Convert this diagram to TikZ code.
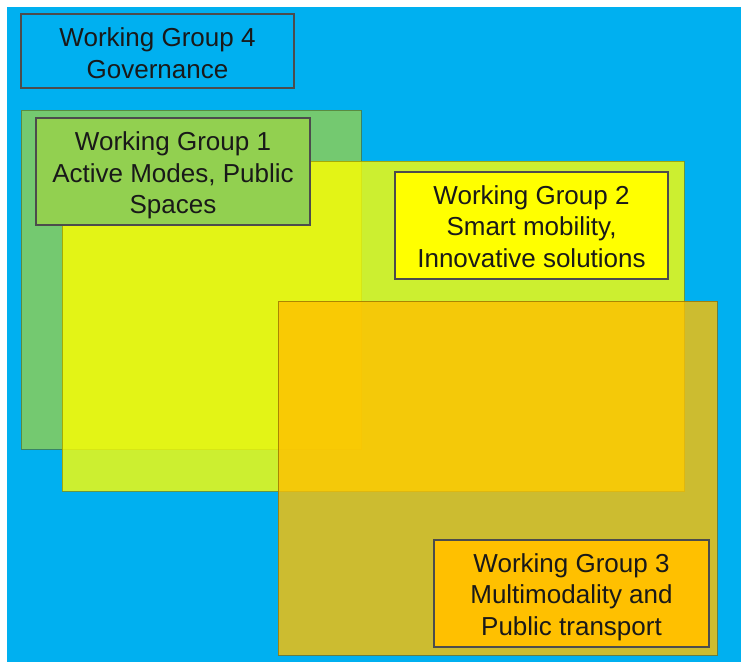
\documentclass[tikz,border=0pt]{standalone}
\usepackage{fontspec}
\setmainfont{Liberation Sans}
\definecolor{wgblue}{HTML}{00B0F0}
\definecolor{wggreen}{HTML}{92D050}
\definecolor{wgyellow}{HTML}{FFFF00}
\definecolor{wgorange}{HTML}{FFC000}
\begin{document}
\begin{tikzpicture}
[x=1pt,y=-1pt,
  areadecorate/.style={draw=#1!55!black,draw opacity=0.7,fill=#1,fill opacity=0.8,line width=0.8pt},%
  groupdecorate/.style={shape=rectangle,draw=black!70,line width=1.4pt,inner sep=0pt},%
  textdecorate/.style={inner sep=0pt,align=center,font=\fontsize{26}{31.5}\selectfont,text=black!90}]
%% page and background
\useasboundingbox (0,0) rectangle (741,662);
\fill[white] (0,0) rectangle (741,662);
\fill[wgblue] (7,7) rectangle (741,662);
%% overlapping areas
\foreach \colour/\xa/\ya/\xb/\yb in {wggreen/21/110/361/449,
  wgyellow/62/161/684/491, wgorange/278/301/717/655} {
  \draw[areadecorate=\colour] (\xa,\ya) rectangle (\xb,\yb);
}
%% working group labels
\foreach \nodename/\colour/\x/\y/\w/\h/\down/\label in {
  wgfour/wgblue/157.5/51/273/74/2/{Working Group 4\\Governance},
  wgone/wggreen/173/171.5/274/107/4/{Working Group 1\\Active Modes, Public\\Spaces},
  wgtwo/wgyellow/531.5/225.5/273/107/1/{Working Group 2\\Smart mobility,\\Innovative solutions},
  wgthree/wgorange/571.5/593.5/275/107/3.5/{Working Group 3\\Multimodality and\\Public transport}} {
  \node (\nodename) at (\x,\y) [groupdecorate,fill=\colour,minimum width=\w,minimum height=\h] {};
  \node (\nodename text) at ([yshift=-\down pt]\nodename.center) [textdecorate] {\label};
}
\end{tikzpicture}
\end{document}
